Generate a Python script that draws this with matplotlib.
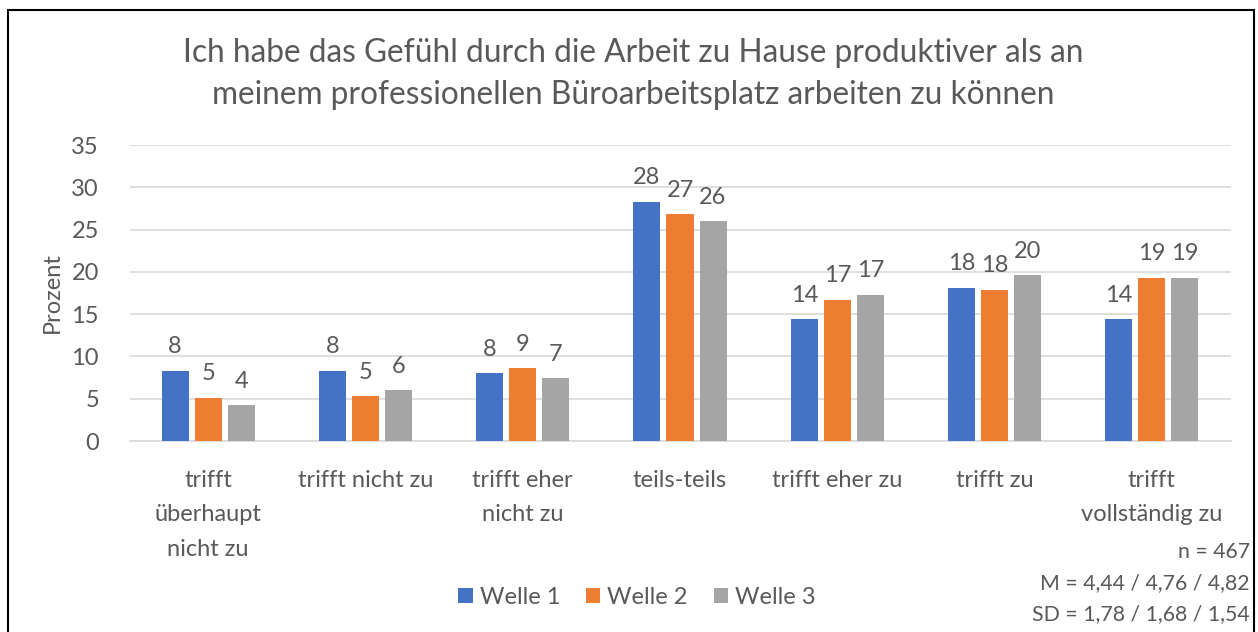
import matplotlib
matplotlib.use("Agg")
import matplotlib.pyplot as plt
import numpy as np
from matplotlib.patches import Rectangle

plt.rcParams['font.family'] = ['Lato', 'DejaVu Sans']

categories = ["trifft\nüberhaupt\nnicht zu", "trifft nicht zu", "trifft eher\nnicht zu",
              "teils-teils", "trifft eher zu", "trifft zu", "trifft\nvollständig zu"]
welle1 = [8.3, 8.3, 8.0, 28.3, 14.4, 18.1, 14.4]
welle2 = [5.1, 5.3, 8.6, 26.8, 16.7, 17.9, 19.3]
welle3 = [4.2, 6.0, 7.4, 26.0, 17.3, 19.6, 19.3]
labels1 = [8, 8, 8, 28, 14, 18, 14]
labels2 = [5, 5, 9, 27, 17, 18, 19]
labels3 = [4, 6, 7, 26, 17, 20, 19]
series_names = ["Welle 1", "Welle 2", "Welle 3"]
colors = ["#4472C4", "#ED7D31", "#A5A5A5"]
yticks = [0, 5, 10, 15, 20, 25, 30, 35]
title = "Ich habe das Gefühl durch die Arbeit zu Hause produktiver als an\nmeinem professionellen Büroarbeitsplatz arbeiten zu können"
stats = ["n = 467", "M = 4,44 / 4,76 / 4,82", "SD = 1,78 / 1,68 / 1,54"]

W, H = 1258, 632
fig = plt.figure(figsize=(W / 100, H / 100), dpi=100)
ax = fig.add_axes([129.5 / W, 1 - 441 / H, (1230.5 - 129.5) / W, (441 - 145) / H])

txt = "#595959"
fs = 17
x = np.arange(len(categories))
bw = 0.172
step = 0.21
for i, (vals, labs, c, name) in enumerate(zip([welle1, welle2, welle3], [labels1, labels2, labels3], colors, series_names)):
    pos = x + (i - 1) * step
    ax.bar(pos, vals, width=bw, color=c, label=name, zorder=3)
    for p, v, l in zip(pos, vals, labs):
        ax.text(p, v + 1.6, str(l), ha="center", va="bottom", fontsize=fs, color=txt)

ax.set_xlim(-0.5, len(categories) - 0.5)
ax.set_ylim(0, 35)
ax.set_yticks(yticks)
ax.set_yticklabels([str(t) for t in yticks], fontsize=fs, color=txt)
ax.set_xticks(x)
ax.set_xticklabels(categories, fontsize=fs, color=txt, linespacing=1.78)
ax.tick_params(axis="both", length=0)
ax.tick_params(axis="y", pad=22)
ax.tick_params(axis="x", pad=21)
ax.grid(axis="y", color="#D9D9D9", linewidth=1.2, zorder=0)
for s in ["top", "right", "left"]:
    ax.spines[s].set_visible(False)
ax.spines["bottom"].set_color("#D9D9D9")
ax.spines["bottom"].set_linewidth(1.2)
ax.set_ylabel("Prozent", fontsize=fs, color=txt, labelpad=6)

fig.text(633 / W, 1 - 74 / H, title, ha="center", va="center", fontsize=22.8, color=txt, linespacing=1.48)

leg = fig.legend(loc="center", bbox_to_anchor=(637 / W, 1 - 597 / H), ncol=3, frameon=False,
                 fontsize=fs, handlelength=0.6, handleheight=0.6, handletextpad=0.3, columnspacing=1.1)
for t in leg.get_texts():
    t.set_color(txt)

for i, s in enumerate(stats):
    fig.text(1250 / W, 1 - (552 + 31 * i) / H, s, ha="right", va="center", fontsize=15.3, color=txt)

fig.patches.append(Rectangle((8 / W, -0.1), (1254 - 8) / W, 1 - 10 / H + 0.1, transform=fig.transFigure,
                             fill=False, edgecolor="black", linewidth=1.5))

fig.savefig("out.png", dpi=100)
